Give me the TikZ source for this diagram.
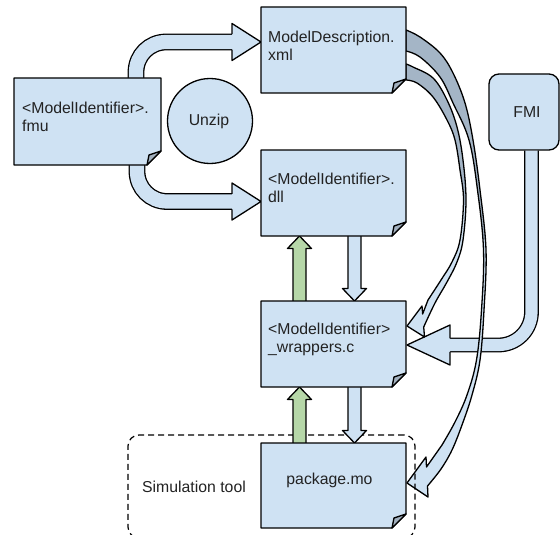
\documentclass[tikz,border=0pt]{standalone}
\usepackage{fontspec}
\setmainfont{Liberation Sans}
\usetikzlibrary{calc}
\definecolor{lb}{HTML}{CFE2F3}
\definecolor{gr}{HTML}{B6D7A8}
\definecolor{rib}{HTML}{A4B5C6}
\definecolor{foldc}{HTML}{A2B0BE}
\definecolor{txtc}{HTML}{222222}

\newcommand\docshape[1]{%
  \filldraw[boxline, fill=lb] (#1.north west) -- (#1.north east) -- ($(#1.south east)+(0,-14)$) -- ($(#1.south east)+(-14,0)$) -- (#1.south west) -- cycle;
  \filldraw[boxline, fill=foldc] ($(#1.south east)+(0,-14)$) -- ($(#1.south east)+(-12,-10)$) -- ($(#1.south east)+(-14,0)$) -- cycle;}

% vertical block arrow: #1 start, #2 tip, #3 fill, #4 signed y offset of head base from tip
\newcommand\blkv[4]{%
  \filldraw[boxline, fill=#3] ($(#1)+(-6.5,0)$) -- ($(#2)+(-6.5,#4)$) -- ($(#2)+(-12,#4)$) -- (#2) -- ($(#2)+(12,#4)$) -- ($(#2)+(6.5,#4)$) -- ($(#1)+(6.5,0)$);}

% bent block arrow: #1 start, #2 tip, #3 shaft width, #4 signed x offset of head base, #5 head half width, #6 radius
\newcommand\blkcurve[6]{%
  \coordinate (hb) at ($(#2)+(#4,0)$);
  \draw[line width=#3pt+1.3pt, black, rounded corners=#6pt] (#1) |- (hb);
  \draw[line width=#3pt-1.3pt, lb, rounded corners=#6pt] (#1) |- (hb);
  \fill[lb] ($(hb)+(0,-#5)$) -- (#2) -- ($(hb)+(0,#5)$) -- cycle;
  \draw[boxline] ($(hb)+(0,-#3/2)$) -- ($(hb)+(0,-#5)$) -- (#2) -- ($(hb)+(0,#5)$) -- ($(hb)+(0,#3/2)$);}

\begin{document}
\begin{tikzpicture}[x=1pt,y=-1pt,
  boxline/.style={draw=black, line width=1.3pt, line join=round},
  geom/.style={inner sep=0pt, outer sep=0pt, minimum width=145pt, minimum height=86pt},
  txt/.style={font=\fontsize{15.8}{18}\selectfont, inner sep=0pt, align=left, text=txtc},
  ribA/.style={insert path={plot[smooth, tension=0.6] coordinates {(406,64) (413,67) (433,78) (447,100) (457,127) (463,160) (466,200) (463,240) (457,262) (447,282) (435,303) (423.7,327)} -- (424.5,337) -- (407,326) -- (422,306) -- (422.65,314) -- plot[smooth, tension=0.6] coordinates {(428,300) (441,280) (452,262) (460,240) (463.5,200) (460,170) (455,140) (447,120) (433,97) (417,83) (406,80)} -- cycle}},
  ribB/.style={insert path={plot[smooth, tension=0.6] coordinates {(406,30) (420,37) (440,53) (453,73) (465,103) (473,140) (480,190) (486,250) (484,310) (480,360) (472,395) (462,425) (452,450) (441,469) (427.5,486)} -- (428,497) -- (407,483) -- (426,457) -- (426.5,467) -- plot[smooth, tension=0.6] coordinates {(442,445) (455,422) (467,395) (476.5,360) (481.5,310) (483.5,250) (477.5,190) (469,140) (453,103) (440,77) (420,57) (406,51)} -- cycle}},
]
\useasboundingbox (0,0) rectangle (560,535);
\clip (0,0) rectangle (560,535);

% geometry of the boxes
\node[geom, minimum width=147pt, minimum height=87pt] (fmu) at (87.5,121.5) {};
\node[geom] (xml) at (333.5,50) {};
\node[geom] (dll) at (333.5,193) {};
\node[geom] (wrap) at (333.5,344) {};
\node[geom, minimum height=85pt] (pkg) at (333.5,485.5) {};

% FMI -> wrappers
\node[draw=black, line width=1.3pt, fill=lb, rounded corners=10pt, minimum width=70pt, minimum height=76pt, inner sep=0pt] (fmi) at (524,112) {};
\coordinate (fs) at ($(fmi.south)+(7.5,0)$);
\coordinate (ft) at ($(wrap.east)+(1,1)$);
\blkcurve{fs}{ft}{13.5}{43}{20}{33}

% ribbons from ModelDescription.xml
\fill[rib, ribA];
\begin{scope}
  \clip (0,205) rectangle (560,535);
  \fill[lb, ribA];
\end{scope}
\draw[boxline, ribA];
\fill[rib, ribB];
\begin{scope}
  \clip (0,240) rectangle (560,535);
  \fill[lb, ribB];
\end{scope}
\draw[boxline, ribB];

% simulation tool frame
\node[draw=black, line width=1.2pt, dash pattern=on 6pt off 4pt, rounded corners=11pt, minimum width=287pt, minimum height=103pt, inner sep=0pt] (simbox) at (271.5,486.5) {};

% fmu -> xml, fmu -> dll
\coordinate (u1) at ($(fmu.north)+(48.5,0)$);
\coordinate (u1t) at ($(xml.west)+(0,-8)$);
\blkcurve{u1}{u1t}{15.5}{-29}{18.5}{30}
\coordinate (u2) at ($(fmu.south)+(49.5,0)$);
\coordinate (u2t) at ($(dll.west)+(0,8.5)$);
\blkcurve{u2}{u2t}{15.5}{-29}{18.5}{30}

% vertical arrows
\coordinate (g1s) at ($(wrap.north)+(-34,0)$);
\coordinate (g1t) at ($(dll.south)+(-34,0)$);
\coordinate (b1s) at ($(dll.south)+(21,0)$);
\coordinate (b1t) at ($(wrap.north)+(21,0)$);
\coordinate (g2s) at ($(pkg.north)+(-34,0)$);
\coordinate (g2t) at ($(wrap.south)+(-34,0)$);
\coordinate (b2s) at ($(wrap.south)+(21,0)$);
\coordinate (b2t) at ($(pkg.north)+(21,0)$);
\blkv{g1s}{g1t}{gr}{12.5}
\blkv{b1s}{b1t}{lb}{-12.5}
\blkv{g2s}{g2t}{gr}{12.5}
\blkv{b2s}{b2t}{lb}{-12.5}

% document boxes
\docshape{fmu}
\docshape{xml}
\docshape{dll}
\docshape{wrap}
\docshape{pkg}

\node[circle, draw=black, line width=1.3pt, fill=lb, minimum size=85pt, inner sep=0pt] (unzip) at (210,121) {};

% texts
\node[txt, anchor=north west] (fmut) at ($(fmu.north west)+(8,23.5)$) {<ModelIdentifier>.\\fmu};
\node[txt, anchor=north west] (xmlt) at ($(xml.north west)+(7,23.5)$) {ModelDescription.\\xml};
\node[txt, anchor=north west] (dllt) at ($(dll.north west)+(7,22.5)$) {<ModelIdentifier>.\\dll};
\node[txt, anchor=north west] (wrapt) at ($(wrap.north west)+(7,21.5)$) {<ModelIdentifier>\\\_wrappers.c};
\node[txt] (pkgt) at ($(pkg.center)+(-4,-5.5)$) {package.mo};
\node[txt] (unzipt) at ($(unzip.center)+(-1,0)$) {Unzip};
\node[txt] (fmit) at ($(fmi.center)+(3,0)$) {FMI};
\node[txt, anchor=west] (simt) at (142,487) {Simulation tool};
\end{tikzpicture}
\end{document}
